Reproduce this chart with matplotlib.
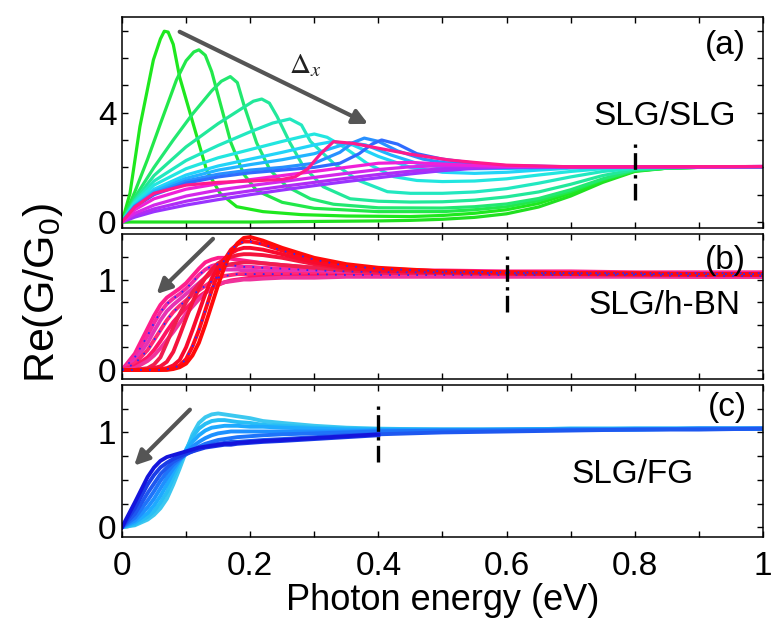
import matplotlib
matplotlib.use('Agg')
import matplotlib.pyplot as plt
from matplotlib.ticker import FixedLocator

plt.rcParams['font.family'] = ['Liberation Sans', 'DejaVu Sans']
plt.rcParams['mathtext.fontset'] = 'custom'
plt.rcParams['mathtext.rm'] = 'Liberation Sans'
plt.rcParams['mathtext.it'] = 'Liberation Sans:italic'

# ---- (a) SLG/SLG : one x/y list per curve ----
a0_x = [0, 0.1, 0.2, 0.3, 0.4, 0.45, 0.5, 0.55, 0.6, 0.65, 0.7, 0.75, 0.8, 0.85, 0.9, 1.0]
a0_y = [0.0, 0.0, 0.0, 0.02, 0.04, 0.06, 0.1, 0.17, 0.3, 0.55, 0.95, 1.45, 1.85, 1.97, 2.0, 2.02]

a1_x = [0, 0.0125, 0.028, 0.049, 0.06, 0.066, 0.072, 0.08, 0.09, 0.111, 0.132, 0.153, 0.179,
        0.22, 0.28, 0.35, 0.45, 0.5, 0.55, 0.6, 0.65, 0.7, 0.75, 0.8, 0.85, 0.9, 1.0]
a1_y = [0, 1.05, 3.49, 5.93, 6.7, 6.98, 6.95, 6.5, 5.3, 3.6, 1.9, 1.05, 0.56,
        0.38, 0.27, 0.22, 0.2, 0.24, 0.32, 0.45, 0.68, 1.05, 1.5, 1.87, 1.97, 2.0, 2.02]

a2_x = [0, 0.02, 0.04, 0.06, 0.085, 0.1, 0.112, 0.12, 0.13, 0.14, 0.155, 0.17, 0.19, 0.21,
        0.25, 0.3, 0.4, 0.5, 0.55, 0.6, 0.65, 0.7, 0.75, 0.8, 0.85, 0.9, 1.0]
a2_y = [0, 1.1, 2.3, 3.6, 5.2, 5.9, 6.22, 6.3, 6.1, 5.5, 4.2, 2.9, 1.75, 1.15,
        0.72, 0.5, 0.38, 0.38, 0.45, 0.56, 0.78, 1.12, 1.55, 1.88, 1.97, 2.0, 2.02]

a3_x = [0, 0.02, 0.05, 0.08, 0.11, 0.14, 0.155, 0.169, 0.18, 0.19, 0.21, 0.231, 0.257, 0.294,
        0.33, 0.4, 0.5, 0.55, 0.6, 0.65, 0.7, 0.75, 0.8, 0.85, 0.9, 1.0]
a3_y = [0, 0.9, 2.0, 3.0, 3.95, 4.8, 5.15, 5.32, 5.1, 4.3, 2.9, 1.9, 1.3, 0.85,
        0.65, 0.52, 0.51, 0.56, 0.66, 0.86, 1.18, 1.58, 1.9, 1.97, 2.0, 2.02]

a4_x = [0, 0.02, 0.05, 0.1, 0.15, 0.19, 0.205, 0.218, 0.23, 0.242, 0.2625, 0.283, 0.314,
        0.356, 0.4, 0.45, 0.5, 0.55, 0.6, 0.65, 0.7, 0.75, 0.8, 0.85, 0.9, 1.0]
a4_y = [0, 0.8, 1.7, 2.75, 3.6, 4.2, 4.42, 4.5, 4.35, 3.86, 2.88, 2.03, 1.29,
        0.85, 0.76, 0.73, 0.74, 0.8, 0.92, 1.1, 1.38, 1.7, 1.92, 1.98, 2.0, 2.02]

a5_x = [0, 0.02, 0.05, 0.1, 0.15, 0.2, 0.235, 0.262, 0.28, 0.294, 0.33, 0.367, 0.414, 0.45,
        0.5, 0.55, 0.6, 0.65, 0.7, 0.75, 0.8, 0.85, 0.9, 1.0]
a5_y = [0, 0.75, 1.5, 2.25, 2.8, 3.3, 3.62, 3.77, 3.55, 2.95, 2.15, 1.54, 1.11, 1.05,
        1.05, 1.1, 1.22, 1.42, 1.65, 1.85, 1.96, 2.0, 2.01, 2.02]

a6_x = [0, 0.02, 0.05, 0.1, 0.15, 0.2, 0.25, 0.28, 0.3, 0.32, 0.345, 0.382, 0.424, 0.46,
        0.5, 0.55, 0.6, 0.65, 0.7, 0.75, 0.8, 0.9, 1.0]
a6_y = [0, 0.7, 1.35, 1.95, 2.35, 2.65, 2.95, 3.12, 3.22, 3.1, 2.76, 2.15, 1.66, 1.52,
        1.48, 1.5, 1.58, 1.72, 1.85, 1.95, 2.0, 2.01, 2.02]

a7_x = [0, 0.02, 0.05, 0.1, 0.15, 0.2, 0.25, 0.3, 0.33, 0.36, 0.4, 0.45, 0.5, 0.55,
        0.6, 0.65, 0.7, 0.8, 0.9]
a7_y = [0, 0.62, 1.2, 1.72, 2.05, 2.3, 2.55, 2.82, 2.95, 2.82, 2.4, 2.0, 1.82, 1.78,
        1.82, 1.9, 1.97, 2.0, 2.01]

a8_x = [0, 0.02, 0.05, 0.1, 0.15, 0.2, 0.25, 0.3, 0.33, 0.355, 0.38, 0.42, 0.46, 0.5,
        0.55, 0.6, 0.7, 0.8, 0.88]
a8_y = [0, 0.6, 1.12, 1.6, 1.9, 2.1, 2.28, 2.5, 2.72, 2.9, 2.82, 2.45, 2.15, 2.0,
        1.95, 1.96, 2.0, 2.01, 2.01]

a9_x = [0, 0.02, 0.05, 0.1, 0.15, 0.2, 0.25, 0.3, 0.34, 0.36, 0.378, 0.4, 0.43, 0.47,
        0.5, 0.55, 0.6, 0.7, 0.8, 1.0]
a9_y = [0, 0.58, 1.05, 1.5, 1.75, 1.9, 2.0, 2.15, 2.55, 2.9, 3.07, 2.95, 2.6, 2.3,
        2.18, 2.08, 2.03, 2.01, 2.01, 2.02]

a10_x = [0, 0.02, 0.05, 0.1, 0.15, 0.2, 0.25, 0.3, 0.34, 0.37, 0.39, 0.405, 0.43, 0.46,
         0.5, 0.55, 0.6, 0.7, 0.8, 1.0]
a10_y = [0, 0.55, 1.0, 1.42, 1.65, 1.8, 1.9, 2.0, 2.15, 2.5, 2.85, 3.0, 2.85, 2.5,
         2.3, 2.15, 2.06, 2.02, 2.01, 2.02]

# violet / magenta curves share one energy grid
av_x = [0, 0.02, 0.05, 0.1, 0.15, 0.2, 0.25, 0.3, 0.35, 0.4, 0.45, 0.5, 0.55, 0.6, 0.7, 0.8, 0.9, 1.0]
av1_y = [0, 0.18, 0.38, 0.62, 0.82, 1.0, 1.17, 1.33, 1.48, 1.62, 1.76, 1.88, 1.96, 2.0, 2.02, 2.02, 2.02, 2.03]
av2_y = [0, 0.24, 0.48, 0.76, 0.97, 1.14, 1.3, 1.45, 1.6, 1.74, 1.86, 1.95, 2.0, 2.02, 2.02, 2.02, 2.02, 2.03]
av3_y = [0, 0.32, 0.62, 0.95, 1.17, 1.33, 1.48, 1.63, 1.78, 1.92, 2.02, 2.06, 2.06, 2.04, 2.02, 2.02, 2.02, 2.03]
av4_y = [0, 0.45, 0.85, 1.2, 1.4, 1.55, 1.7, 1.85, 2.0, 2.15, 2.18, 2.12, 2.07, 2.04, 2.02, 2.02, 2.02, 2.03]

apk_x = [0, 0.02, 0.05, 0.1, 0.15, 0.2, 0.25, 0.27, 0.29, 0.31, 0.33, 0.36, 0.4, 0.45,
         0.51, 0.55, 0.6, 0.7, 0.8, 1.0]
apk_y = [0, 0.55, 1.05, 1.35, 1.45, 1.5, 1.56, 1.65, 1.95, 2.5, 2.94, 2.88, 2.7, 2.48,
         2.27, 2.18, 2.08, 2.02, 2.02, 2.03]

a_colors = ['#20e020', '#1ee81e', '#22e84a', '#22e870', '#22e89a', '#22e8c0', '#22e6e0',
            '#22d4f8', '#22b4ff', '#2890ff', '#2f6cff',
            '#9a33ff', '#b02cf5', '#d428ea', '#f020d8', '#ff1a8c']

# ---- (b) SLG/h-BN ----
b_x = [0, 0.02, 0.04, 0.05, 0.06, 0.07, 0.08, 0.09, 0.10, 0.11, 0.12, 0.13, 0.14, 0.15, 0.16,
       0.17, 0.18, 0.19, 0.20, 0.22, 0.25, 0.30, 0.35, 0.40, 0.50, 0.60, 0.70, 0.80, 0.90, 1.0]
b_pink1 = [0, 0.18, 0.46, 0.6, 0.72, 0.8, 0.85, 0.9, 0.96, 1.04, 1.12, 1.19, 1.22, 1.24, 1.24,
           1.23, 1.22, 1.21, 1.2, 1.18, 1.16, 1.13, 1.11, 1.1, 1.1, 1.09, 1.09, 1.08, 1.08, 1.08]
b_pink2 = [0, 0.14, 0.38, 0.52, 0.64, 0.73, 0.79, 0.84, 0.9, 0.97, 1.05, 1.11, 1.15, 1.17, 1.17,
           1.16, 1.15, 1.14, 1.14, 1.13, 1.12, 1.1, 1.09, 1.08, 1.08, 1.07, 1.07, 1.07, 1.07, 1.07]
b_pink3 = [0, 0.1, 0.3, 0.43, 0.55, 0.65, 0.72, 0.78, 0.84, 0.9, 0.96, 1.02, 1.07, 1.1, 1.11,
           1.11, 1.11, 1.1, 1.1, 1.09, 1.09, 1.08, 1.07, 1.07, 1.06, 1.06, 1.06, 1.06, 1.06, 1.06]
b_pink4 = [0, 0.07, 0.22, 0.33, 0.44, 0.55, 0.64, 0.71, 0.77, 0.83, 0.88, 0.93, 0.98, 1.02, 1.04,
           1.05, 1.06, 1.06, 1.06, 1.06, 1.06, 1.06, 1.05, 1.05, 1.05, 1.05, 1.05, 1.05, 1.04, 1.04]
b_pink5 = [0, 0.04, 0.14, 0.22, 0.32, 0.43, 0.53, 0.61, 0.68, 0.75, 0.81, 0.86, 0.9, 0.94, 0.97,
           0.99, 1.0, 1.01, 1.02, 1.03, 1.03, 1.04, 1.04, 1.04, 1.04, 1.04, 1.04, 1.04, 1.03, 1.03]
b_pink6 = [0, 0.02, 0.1, 0.16, 0.24, 0.33, 0.42, 0.52, 0.62, 0.7, 0.78, 0.85, 0.9, 0.95, 0.97,
           0.98, 0.99, 1.0, 1.0, 1.01, 1.02, 1.02, 1.03, 1.03, 1.03, 1.03, 1.03, 1.03, 1.03, 1.03]
b_red1 = [0, 0, 0, 0, 0, 0, 0.01, 0.03, 0.07, 0.16, 0.3, 0.5, 0.72, 0.94, 1.14,
          1.3, 1.4, 1.46, 1.47, 1.43, 1.35, 1.24, 1.17, 1.13, 1.09, 1.08, 1.07, 1.07, 1.06, 1.06]
b_red2 = [0, 0, 0, 0, 0, 0.01, 0.02, 0.05, 0.12, 0.26, 0.44, 0.66, 0.88, 1.07, 1.22,
          1.33, 1.39, 1.42, 1.42, 1.39, 1.32, 1.22, 1.15, 1.12, 1.09, 1.08, 1.07, 1.06, 1.06, 1.06]
b_red3 = [0, 0, 0, 0, 0.01, 0.02, 0.05, 0.11, 0.25, 0.44, 0.64, 0.84, 1.01, 1.14, 1.23,
          1.29, 1.33, 1.35, 1.35, 1.33, 1.28, 1.19, 1.13, 1.1, 1.08, 1.07, 1.06, 1.06, 1.06, 1.05]
b_red4 = [0, 0, 0.01, 0.02, 0.04, 0.09, 0.2, 0.38, 0.57, 0.75, 0.9, 1.02, 1.11, 1.18, 1.22,
          1.25, 1.27, 1.28, 1.28, 1.27, 1.24, 1.17, 1.12, 1.1, 1.08, 1.07, 1.06, 1.06, 1.05, 1.05]
b_red5 = [0, 0, 0.02, 0.06, 0.14, 0.3, 0.47, 0.62, 0.75, 0.86, 0.95, 1.02, 1.08, 1.12, 1.15,
          1.17, 1.18, 1.19, 1.19, 1.18, 1.16, 1.13, 1.1, 1.08, 1.07, 1.06, 1.06, 1.05, 1.05, 1.05]
b_pink_colors = ['#ff1e8c', '#f528a0', '#e632b4', '#ff2878', '#ff1464', '#f0329b']
b_red_colors = ['#ff0a0a', '#ff0a1e', '#f80a2d', '#f5143c', '#f01e50']

# ---- (c) SLG/FG ----
c_x = [0, 0.02, 0.04, 0.05, 0.06, 0.07, 0.08, 0.09, 0.10, 0.11, 0.12, 0.13, 0.14, 0.15, 0.16,
       0.17, 0.18, 0.20, 0.22, 0.25, 0.30, 0.35, 0.40, 0.50, 0.60, 0.70, 0.80, 0.90, 1.0]
c_light8 = [0, 0.02, 0.08, 0.13, 0.2, 0.3, 0.45, 0.62, 0.8, 0.98, 1.1, 1.16, 1.19, 1.2, 1.19,
            1.18, 1.17, 1.15, 1.12, 1.1, 1.07, 1.05, 1.04, 1.03, 1.03, 1.04, 1.04, 1.04, 1.04]
c_light7 = [0, 0.03, 0.11, 0.17, 0.26, 0.37, 0.52, 0.67, 0.82, 0.95, 1.04, 1.09, 1.12, 1.13, 1.13,
            1.12, 1.11, 1.1, 1.08, 1.07, 1.05, 1.04, 1.03, 1.03, 1.03, 1.04, 1.04, 1.04, 1.04]
c_light6 = [0, 0.05, 0.15, 0.23, 0.33, 0.45, 0.58, 0.7, 0.81, 0.9, 0.97, 1.02, 1.05, 1.06, 1.07,
            1.07, 1.07, 1.06, 1.06, 1.05, 1.04, 1.03, 1.03, 1.03, 1.03, 1.03, 1.04, 1.04, 1.04]
c_mid5 = [0, 0.07, 0.21, 0.3, 0.41, 0.52, 0.62, 0.71, 0.79, 0.85, 0.9, 0.94, 0.97, 0.99, 1.0,
          1.01, 1.01, 1.01, 1.01, 1.01, 1.01, 1.01, 1.02, 1.02, 1.03, 1.03, 1.03, 1.04, 1.04]
c_mid4 = [0, 0.1, 0.28, 0.38, 0.49, 0.58, 0.66, 0.72, 0.77, 0.81, 0.85, 0.88, 0.9, 0.92, 0.93,
          0.94, 0.95, 0.96, 0.97, 0.98, 0.99, 1.0, 1.01, 1.02, 1.02, 1.03, 1.03, 1.04, 1.04]
c_dark3 = [0, 0.14, 0.36, 0.46, 0.56, 0.63, 0.69, 0.73, 0.77, 0.8, 0.83, 0.85, 0.87, 0.88, 0.89,
           0.9, 0.9, 0.91, 0.92, 0.93, 0.95, 0.97, 0.98, 1.0, 1.01, 1.02, 1.03, 1.03, 1.04]
# the two darkest runs stop at 0.4 eV
c_dark2 = [0, 0.2, 0.45, 0.55, 0.63, 0.68, 0.72, 0.75, 0.78, 0.8, 0.82, 0.84, 0.85, 0.86, 0.87,
           0.87, 0.88, 0.89, 0.9, 0.91, 0.93, 0.95, 0.97]
c_dark1 = [0, 0.26, 0.53, 0.63, 0.7, 0.74, 0.76, 0.78, 0.8, 0.82, 0.84, 0.85, 0.86, 0.87, 0.88,
           0.88, 0.89, 0.9, 0.91, 0.92, 0.94, 0.96, 0.98]
c_colors = ['#3cc8f0', '#28bef5', '#1eaaff', '#1e90ff', '#1e74fa', '#1e58f0', '#1a3ce8', '#1414dc']

fig = plt.figure(figsize=(7.71, 6.28), dpi=100)
ax_a = fig.add_axes([0.1582, 0.6369, 0.8314, 0.3360])
ax_b = fig.add_axes([0.1582, 0.3965, 0.8314, 0.2304])
ax_c = fig.add_axes([0.1582, 0.1454, 0.8314, 0.2415])

LW = 2.3

# (a)
a_curves = [(a0_x, a0_y), (a1_x, a1_y), (a2_x, a2_y), (a3_x, a3_y), (a4_x, a4_y),
            (a5_x, a5_y), (a6_x, a6_y), (a7_x, a7_y), (a8_x, a8_y), (a9_x, a9_y),
            (a10_x, a10_y), (av_x, av1_y), (av_x, av2_y), (av_x, av3_y), (av_x, av4_y),
            (apk_x, apk_y)]
for (x, y), col in zip(a_curves, a_colors):
    ax_a.plot(x, y, color=col, lw=LW, solid_joinstyle='round')

# (b): pink family first, the red ones on top, blue data dots over a few runs
for y, col in zip([b_pink1, b_pink2, b_pink3, b_pink4, b_pink5, b_pink6], b_pink_colors):
    ax_b.plot(b_x, y, color=col, lw=2.8, solid_joinstyle='round')
for y, col in zip([b_red5, b_red4, b_red3, b_red2, b_red1], b_red_colors[::-1]):
    ax_b.plot(b_x, y, color=col, lw=2.8, solid_joinstyle='round')
for y in (b_pink2, b_pink4, b_red2):
    ax_b.plot(b_x, y, color='#2a2aff', lw=1.3, linestyle=(0, (1, 4)))

# (c): light blue first, dark blue on top
c_curves = [c_light8, c_light7, c_light6, c_mid5, c_mid4, c_dark3, c_dark2, c_dark1]
for y, col in zip(c_curves, c_colors):
    ax_c.plot(c_x[:len(y)], y, color=col, lw=2.8, solid_joinstyle='round')

# axes styling
for ax in (ax_a, ax_b, ax_c):
    ax.set_xlim(0, 1)
    ax.xaxis.set_major_locator(FixedLocator([0, 0.2, 0.4, 0.6, 0.8, 1.0]))
    ax.xaxis.set_minor_locator(FixedLocator([0.1, 0.3, 0.5, 0.7, 0.9]))
    ax.tick_params(which='both', direction='in', top=True, right=True,
                   length=4.5, width=1.0, labelsize=24, pad=4)
    for sp in ax.spines.values():
        sp.set_linewidth(1.1)

ax_a.set_ylim(-0.22, 7.5)
ax_a.yaxis.set_major_locator(FixedLocator([0, 4]))
ax_a.yaxis.set_minor_locator(FixedLocator([1, 2, 3, 5, 6, 7]))
for ax in (ax_b, ax_c):
    ax.set_ylim(-0.1, 1.5)
    ax.yaxis.set_major_locator(FixedLocator([0, 1]))
    ax.yaxis.set_minor_locator(FixedLocator([0.25, 0.5, 0.75, 1.25]))

ax_a.tick_params(axis='x', labelbottom=False)
ax_b.tick_params(axis='x', labelbottom=False)
ax_c.tick_params(axis='x', pad=10)
ax_c.set_xticklabels(['0', '0.2', '0.4', '0.6', '0.8', '1'])
ax_c.set_xlabel('Photon energy (eV)', fontsize=26, labelpad=1)

fig.text(0.056, 0.533, 'Re(G/G$_0$)', rotation=90, fontsize=31, ha='center', va='center')

# dash-dot markers of the onset energy
dd = (0, (5, 1.6, 1, 1.6))
ax_a.plot([0.8, 0.8], [0.8, 3.0], color='black', lw=2.4, linestyle=dd)
ax_b.plot([0.6, 0.6], [0.64, 1.30], color='black', lw=2.4, linestyle=dd)
ax_c.plot([0.4, 0.4], [0.69, 1.33], color='black', lw=2.4, linestyle=dd)

# trend arrows
arr = dict(arrowstyle='-|>', color='#555555', lw=3, mutation_scale=22, shrinkA=0, shrinkB=0)
ax_a.annotate('', xy=(0.384, 3.59), xytext=(0.09, 6.96), arrowprops=arr)
ax_b.annotate('', xy=(0.054, 0.84), xytext=(0.142, 1.45), arrowprops=arr)
ax_c.annotate('', xy=(0.019, 0.65), xytext=(0.106, 1.24), arrowprops=arr)
ax_a.text(0.286, 5.75, r'$\Delta_x$', fontsize=21, math_fontfamily='stix',
          ha='center', va='center', color='#222222')

# panel tags and sample names
ax_a.text(0.942, 6.45, '(a)', fontsize=24, ha='center', va='center')
ax_a.text(0.847, 3.85, 'SLG/SLG', fontsize=24, ha='center', va='center')
ax_b.text(0.942, 1.21, '(b)', fontsize=24, ha='center', va='center')
ax_b.text(0.847, 0.71, 'SLG/h-BN', fontsize=24, ha='center', va='center')
ax_c.text(0.945, 1.26, '(c)', fontsize=24, ha='center', va='center')
ax_c.text(0.797, 0.56, 'SLG/FG', fontsize=24, ha='center', va='center')

fig.savefig('out.png', dpi=100)
